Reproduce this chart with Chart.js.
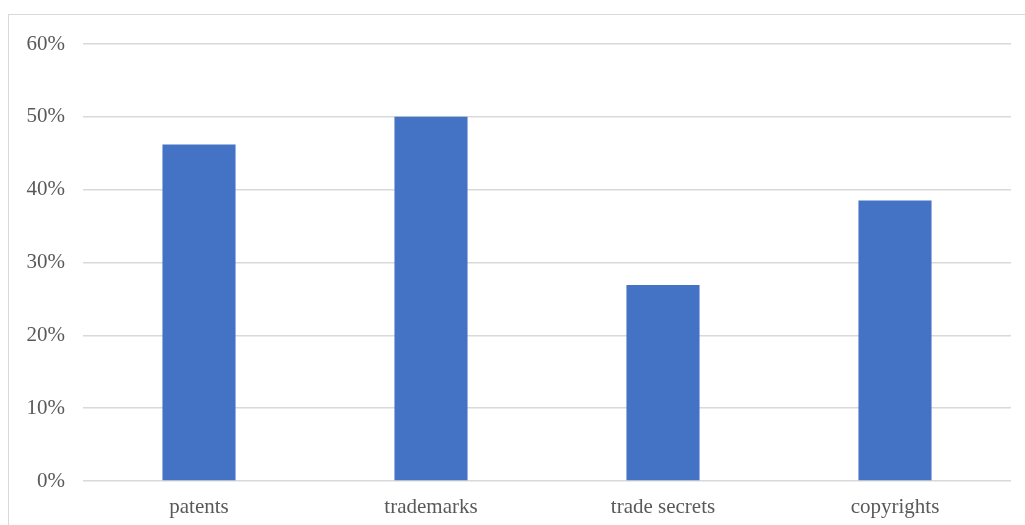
<!DOCTYPE html>
<html>
<head>
<meta charset="utf-8">
<script src="https://cdn.jsdelivr.net/npm/chart.js@4/dist/chart.umd.min.js"></script>
<style>
  html, body { margin: 0; padding: 0; background: #ffffff; overflow: hidden; }
  #wrap { position: relative; width: 1025px; height: 525px; }
  #frame {
    position: absolute; left: 8px; top: 14px; width: 1100px; height: 600px;
    border: 1.5px solid #d9d9d9; box-sizing: border-box; pointer-events: none;
  }
  #chart { position: absolute; left: 0; top: 0; }
</style>
</head>
<body>
<div id="wrap">
  <div id="frame"></div>
  <canvas id="chart" width="1025" height="525"></canvas>
</div>
<script>
// Share of respondents by type of intellectual property (percent)
const categories = ['patents', 'trademarks', 'trade secrets', 'copyrights'];
const shares = [46.2, 50.0, 26.9, 38.5];
const yTickValues = [0, 10, 20, 30, 40, 50, 60];

const font = { family: '"Liberation Serif", "Times New Roman", serif', size: 21 };

new Chart(document.getElementById('chart'), {
  type: 'bar',
  data: {
    labels: categories,
    datasets: [{
      data: shares,
      backgroundColor: '#4472c4',
      borderWidth: 0,
      categoryPercentage: 1,
      barPercentage: 0.315
    }]
  },
  options: {
    responsive: false,
    animation: false,
    events: [],
    layout: { padding: { left: 0, right: 14, top: 44, bottom: 0 } },
    plugins: { legend: { display: false }, tooltip: { enabled: false } },
    scales: {
      x: {
        grid: { display: false, drawTicks: false },
        border: { display: false },
        ticks: { color: '#595959', font: font, padding: 14, maxRotation: 0 },
        afterFit: s => { s.height = 44; }
      },
      y: {
        min: 0,
        max: 60,
        afterBuildTicks: s => { s.ticks = yTickValues.map(v => ({ value: v })); },
        grid: { color: '#d9d9d9', lineWidth: 1.5, drawTicks: false },
        border: { display: false },
        ticks: {
          color: '#595959', font: font, padding: 18,
          callback: v => v + '%'
        },
        afterFit: s => { s.width = 83; }
      }
    }
  }
});
</script>
</body>
</html>
